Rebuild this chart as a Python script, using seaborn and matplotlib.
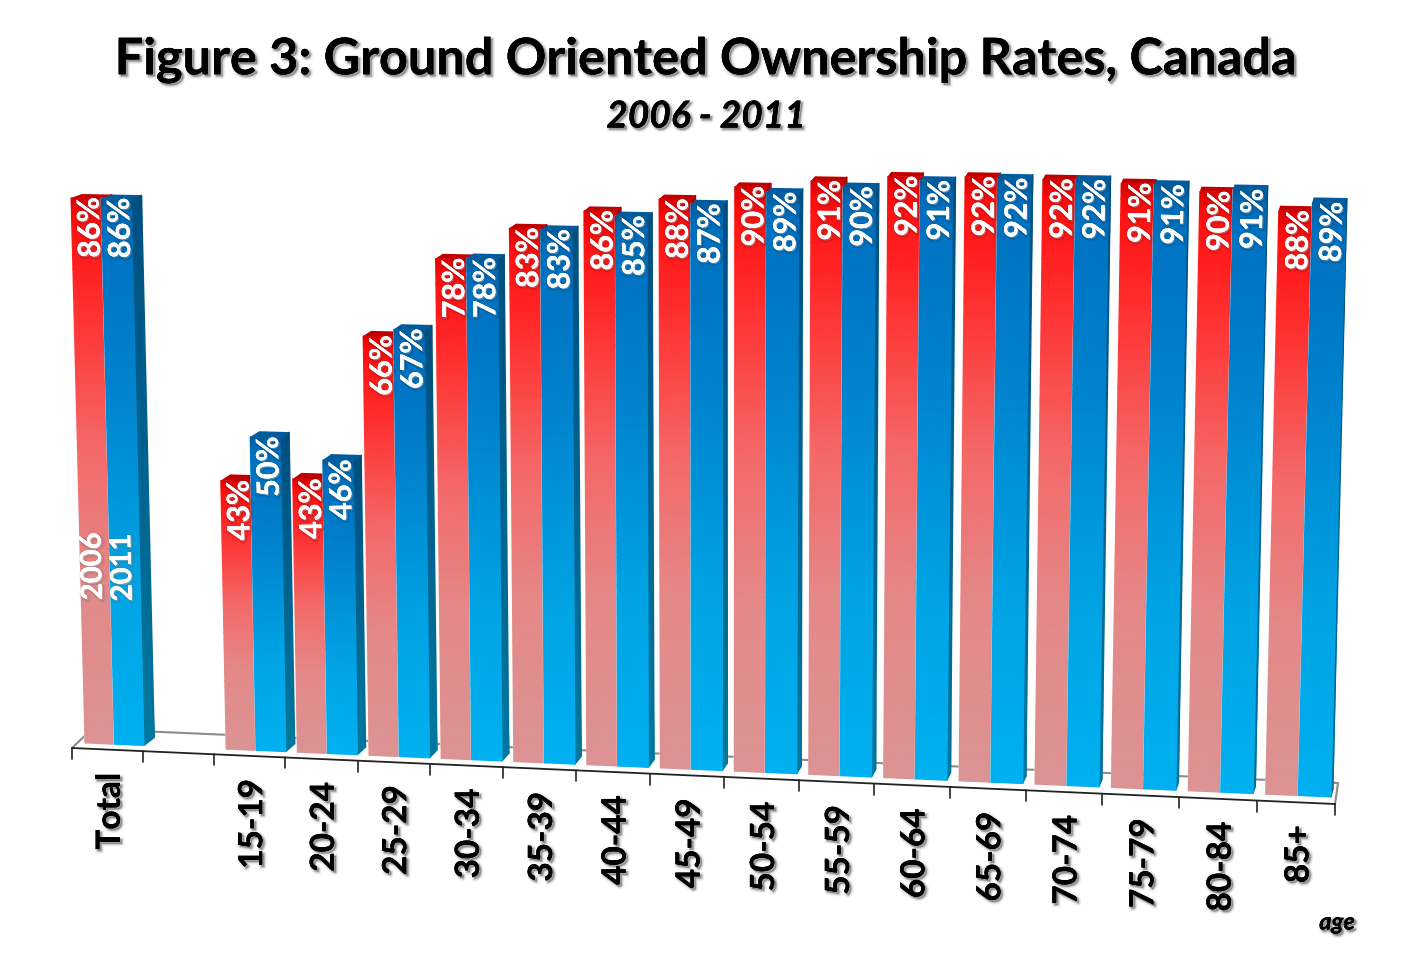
import numpy as np
import pandas as pd
import seaborn as sns
import matplotlib
matplotlib.use("Agg")
import matplotlib.pyplot as plt
import matplotlib.patheffects as pe
from matplotlib.colors import LinearSegmentedColormap
from matplotlib.patches import Polygon
from matplotlib.transforms import Transform, IdentityTransform

ages = ["Total", " ", "15-19", "20-24", "25-29", "30-34", "35-39", "40-44", "45-49",
        "50-54", "55-59", "60-64", "65-69", "70-74", "75-79", "80-84", "85+"]
rate_2006 = [86, np.nan, 42.6, 43.2, 65.7, 77.85, 82.7, 85.55, 87.55, 89.6, 90.7, 91.55, 91.7, 91.55, 91.15, 90.15, 87.55]
rate_2011 = [86, np.nan, 49.55, 46.3, 66.85, 78, 82.55, 84.85, 86.85, 88.85, 89.85, 91, 91.55, 91.55, 91, 90.55, 88.85]
title_text = "Figure 3: Ground Oriented Ownership Rates, Canada"
subtitle_text = "2006 - 2011"

W, H = 1411, 964
sns.set_theme(style="white")
plt.rcParams["font.family"] = ["Lato", "DejaVu Sans"]
fig = plt.figure(figsize=(W / 100, H / 100), dpi=100, facecolor="white")
ax = fig.add_axes([0.05, 0.18, 0.9, 0.66])

slots = list(range(len(ages)))
df = pd.DataFrame({
    "slot": slots * 2,
    "year": ["2006"] * len(ages) + ["2011"] * len(ages),
    "rate": rate_2006 + rate_2011,
})
sns.barplot(data=df.dropna(), x="slot", y="rate", hue="year", native_scale=True, hue_order=["2006", "2011"],
            palette={"2006": "#ff2020", "2011": "#0070c0"}, width=0.84, gap=0, saturation=1,
            legend=False, ax=ax)
ax.set_xlim(-0.5, 16.5)
ax.set_ylim(0, 100)
ax.autoscale(False)
ax.set_axis_off()


class Projective(Transform):
    input_dims = output_dims = 2

    def __init__(self, m):
        super().__init__()
        self.m = m

    def transform_non_affine(self, values):
        v = np.asarray(values, float)
        q = np.c_[v, np.ones(len(v))] @ self.m.T
        return q[:, :2] / q[:, 2:]


def fit(src_data, dst_px):
    src = ax.transData.transform(np.array(src_data, float))
    dst = np.array([[x, H - y] for x, y in dst_px], float)
    A, b = [], []
    for (x, y), (u, v) in zip(src, dst):
        A.append([x, y, 1, 0, 0, 0, -u * x, -u * y]); b.append(u)
        A.append([0, 0, 0, x, y, 1, -v * x, -v * y]); b.append(v)
    s = np.linalg.solve(np.array(A), np.array(b))
    return ax.transData + Projective(np.append(s, 1).reshape(3, 3))


xl, xr = -0.42, 16.42
src_bar = [(xl, 0), (xr, 0), (xl, 86), (xr, 89)]
front = fit(src_bar, [(85, 743), (1331, 797), (71, 198), (1346, 202)])
back = fit(src_bar, [(96, 735), (1333, 790), (82, 194), (1347, 197)])
src_floor = [(-0.5, 0), (16.5, 0), (-0.5, 86), (16.5, 89)]
floor_front = fit(src_floor, [(72, 748), (1335, 804), (60, 203), (1351, 210)])
floor_back = fit(src_floor, [(92, 729), (1338, 783), (80, 185), (1352, 190)])

red_cm = LinearSegmentedColormap.from_list("r", [(0, "#db9393"), (0.3, "#e48888"), (0.55, "#f46868"),
                                                 (0.8, "#ff3030"), (0.97, "#ff0d0d"), (1, "#d80000")])
blue_cm = LinearSegmentedColormap.from_list("b", [(0, "#00b0f0"), (0.3, "#00a4e4"), (0.7, "#0080cc"),
                                                  (0.97, "#006fbe"), (1, "#005c9c")])
style = {
    0: dict(cm=red_cm, top="#c00000", side=("#d87070", "#b00000")),
    1: dict(cm=blue_cm, top="#005a9c", side=("#00789f", "#004f80")),
}
bars = []
for i, cont in enumerate(ax.containers):
    for p in cont.patches:
        if np.isfinite(p.get_height()) and p.get_height() > 0:
            bars.append((p.get_x(), i, p))
bars.sort(key=lambda b: (round(b[0] + 0.21), b[1]))

z = 3
for x0, i, p in bars:
    s = style[i]
    x1, v = x0 + p.get_width(), p.get_height()
    # right face and top face, from the same bar geometry
    fb = front.transform(np.array([[x1, 0.0], [x1, v]]))
    bb = back.transform(np.array([[x1, 0.0], [x1, v]]))
    xs = np.array([[fb[0, 0], bb[0, 0]], [fb[1, 0], bb[1, 0]]])
    ys = np.array([[fb[0, 1], bb[0, 1]], [fb[1, 1], bb[1, 1]]])
    side_cm = LinearSegmentedColormap.from_list("s", list(s["side"]))
    ax.pcolormesh(xs, ys, np.array([[0.0, 0.0], [1.0, 1.0]]), shading="gouraud", cmap=side_cm,
                  vmin=0, vmax=1, transform=IdentityTransform(), zorder=z, clip_on=False)
    tf = front.transform(np.array([[x0, v], [x1, v]]))
    tb = back.transform(np.array([[x1, v], [x0, v]]))
    ax.add_patch(Polygon(np.vstack([tf, tb]), closed=True, facecolor=s["top"], edgecolor="none",
                         transform=IdentityTransform(), zorder=z, clip_on=False))
    p.set_transform(front)
    p.set_clip_on(False)
    p.set_zorder(z)
    yy = np.linspace(0, v, 40)
    ax.pcolormesh(np.array([x0, x1]), yy, np.tile(np.linspace(0, 1, 40)[:, None], (1, 2)),
                  shading="gouraud", cmap=s["cm"], vmin=0, vmax=1, transform=front,
                  zorder=z + 0.5, clip_on=False)
    z += 1


def lean(tr, x, y):
    a, b = tr.transform(np.array([[x, y], [x, y + 10.0]]))
    return np.degrees(np.arctan2(b[1] - a[1], b[0] - a[0]))


def shadow(c="#555555", dx=1.5, dy=-1.5):
    return [pe.withStroke(linewidth=3.5, foreground=c, alpha=0.1, offset=(dx, dy)),
            pe.withStroke(linewidth=1.5, foreground=c, alpha=0.25, offset=(dx, dy)),
            pe.Normal()]


# value labels
for x0, i, p in bars:
    xc = x0 + p.get_width() / 2
    v = p.get_height()
    ax.text(xc + 0.05, v + 0.15, f"{v:.0f}%", transform=front, rotation=lean(front, xc, v),
            rotation_mode="anchor", ha="right", va="center", color="white", fontsize=22,
            fontweight="bold", zorder=200, clip_on=False,
            path_effects=shadow("#7a1010" if i == 0 else "#003a66", 1, -1))

# series names inside the Total bars
for x0, i, p in bars:
    if x0 < 0.5:
        xc = x0 + p.get_width() / 2
        ax.text(xc - 0.03, 23, ["2006", "2011"][i], transform=front, rotation=lean(front, xc, 23),
                rotation_mode="anchor", ha="left", va="center", color="white", fontsize=21,
                fontweight="bold", zorder=200, clip_on=False,
                path_effects=shadow("#666666", 1, -1))

# floor and ticks
edges = np.arange(-0.5, 17.0, 1.0)
ff = floor_front.transform(np.column_stack([edges, np.zeros_like(edges)]))
fbk = floor_back.transform(np.column_stack([edges, np.zeros_like(edges)]))
ax.plot(ff[:, 0], ff[:, 1], color="#222222", lw=1.3, transform=IdentityTransform(), zorder=2.5, clip_on=False)
ax.plot([ff[0, 0], fbk[0, 0], fbk[-1, 0], ff[-1, 0]],
        [ff[0, 1], fbk[0, 1], fbk[-1, 1], ff[-1, 1]],
        color="#8c8c8c", lw=1.5, transform=IdentityTransform(), zorder=1, clip_on=False)
for px, py in ff:
    ax.plot([px, px], [py, py - 11], color="#222222", lw=1.2, transform=IdentityTransform(),
            zorder=2.5, clip_on=False)

for k, name in enumerate(ages):
    if name.strip():
        ax.annotate(name, xy=(k, 0), xycoords=floor_front, xytext=(3, -23), textcoords="offset pixels",
                    rotation=90, rotation_mode="anchor", ha="right", va="center", color="black",
                    fontsize=24, fontweight="bold", annotation_clip=False, path_effects=shadow())

fig.text(1337 / W, 1 - 922 / H, "age", ha="center", va="center", fontsize=17, fontweight="bold",
         fontstyle="italic", color="black", path_effects=shadow())
fig.text(706 / W, 1 - 60 / H, title_text, ha="center", va="center", fontsize=36.3, fontweight="bold",
         color="black", path_effects=shadow())
fig.text(706 / W, 1 - 117 / H, subtitle_text, ha="center", va="center", fontsize=26.7, fontweight="bold",
         fontstyle="italic", color="black", path_effects=shadow())

fig.savefig("out.png", dpi=100, facecolor="white")
